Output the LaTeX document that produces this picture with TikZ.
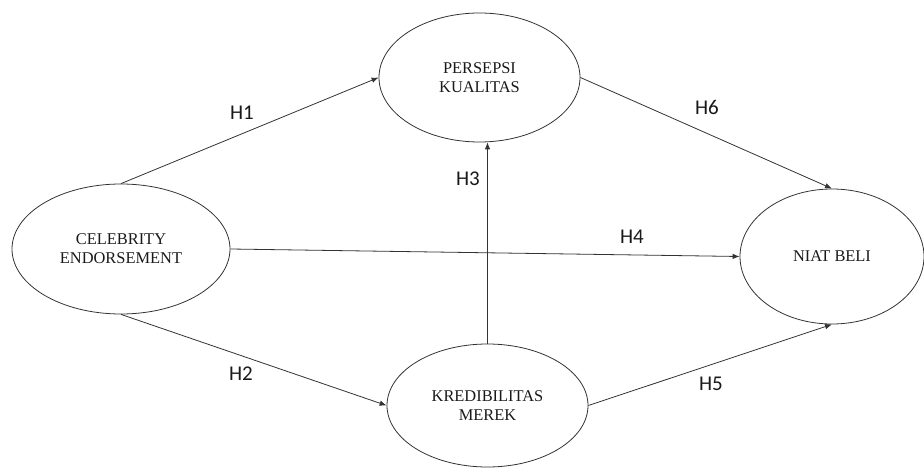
\documentclass[tikz,border=0pt]{standalone}
\usepackage{fontspec}
\setmainfont{Liberation Serif}
\newfontfamily\labfont{Carlito}
\usetikzlibrary{shapes.geometric,arrows.meta}
\begin{document}
\begin{tikzpicture}[x=1pt,y=-1pt,
  var/.style={draw=black!80, line width=0.8pt, ellipse, inner sep=0pt, align=center,
    font=\fontsize{16.4}{19}\selectfont, text=black!90},
  link/.style={draw=black!80, line width=0.8pt, -{Latex[length=7pt,width=5.5pt]}},
  hyp/.style={font=\labfont\fontsize{21}{24}\selectfont, text=black!90, inner sep=0pt}]
\useasboundingbox (0,0) rectangle (924,468);
\node[var, minimum width=201pt, minimum height=129pt] (pk) at (479.5,77.5) {PERSEPSI\\KUALITAS};
\node[var, minimum width=218pt, minimum height=130pt] (ce) at (121,249) {CELEBRITY\\ENDORSEMENT};
\node[var, minimum width=184pt, minimum height=135pt] (nb) at (832,256.5) {NIAT BELI};
\node[var, minimum width=201pt, minimum height=123pt] (km) at (487.5,405.5) {KREDIBILITAS\\MEREK};
\draw[link] (ce.north) -- (pk.west);
\draw[link] (ce.south) -- (km.west);
\draw[link] (ce.east) -- (nb.west);
\draw[link] (km.north) -- (pk.south -| km.north);
\draw[link] (pk.east) -- (nb.north);
\draw[link] (km.east) -- (nb.south);
\node[hyp] (h1) at (242,113) {H1};
\node[hyp] (h2) at (241,374) {H2};
\node[hyp] (h3) at (468,179) {H3};
\node[hyp] (h4) at (632,237) {H4};
\node[hyp] (h5) at (711,384) {H5};
\node[hyp] (h6) at (707,107) {H6};
\end{tikzpicture}
\end{document}
